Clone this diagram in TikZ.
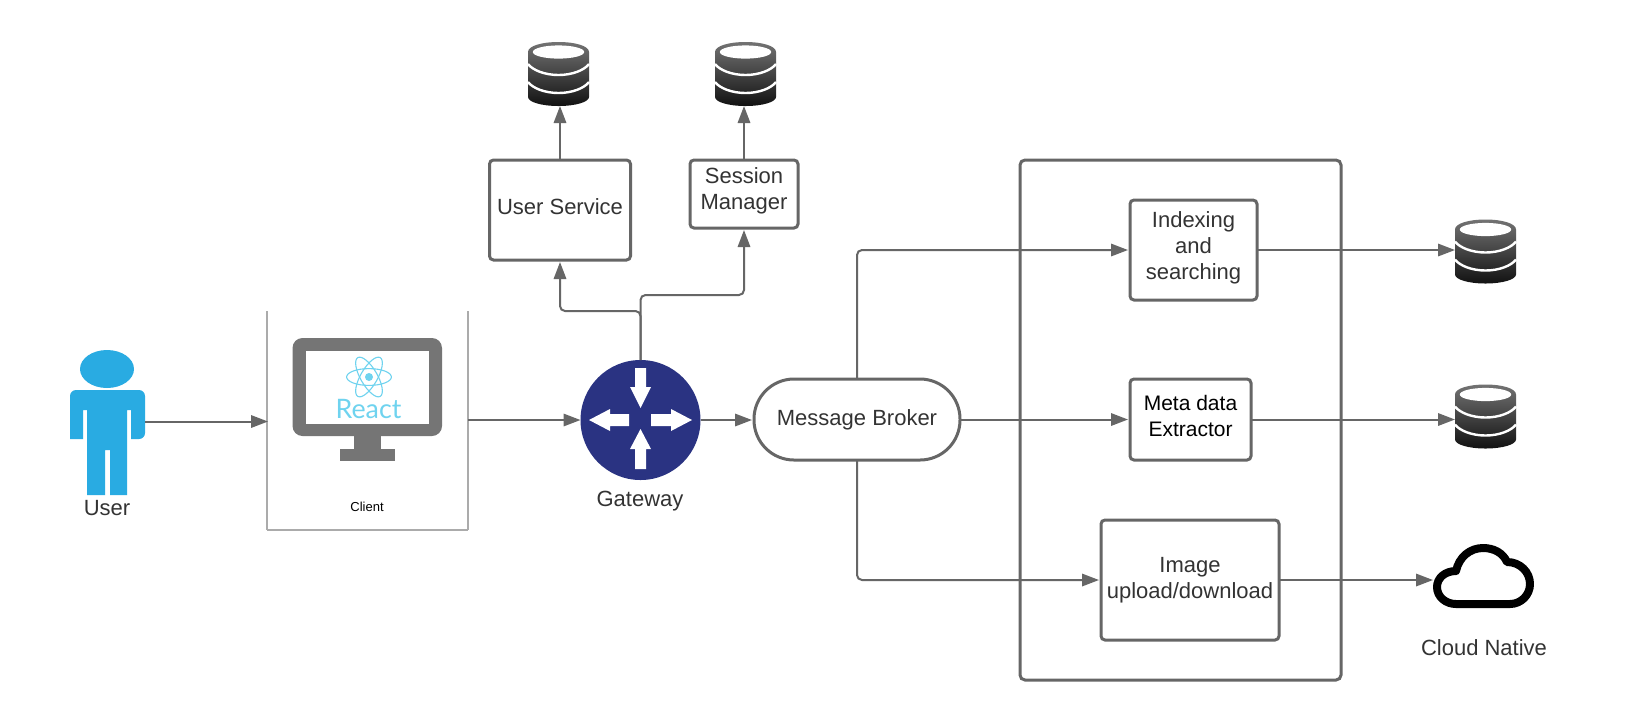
\documentclass[tikz,border=0pt]{standalone}
\usepackage{fontspec}
\setmainfont{Liberation Sans}
\newfontfamily\reactfont{Lato}
\usetikzlibrary{arrows.meta,calc}
\definecolor{linegrey}{HTML}{666666}
\definecolor{textgrey}{HTML}{333333}
\definecolor{monitorgrey}{HTML}{757575}
\definecolor{userblue}{HTML}{29ABE2}
\definecolor{gatewayblue}{HTML}{2A3382}
\definecolor{reactblue}{HTML}{6FD3EF}
\definecolor{edgegrey}{HTML}{ABABAB}
\newcommand{\liftedtext}[2]{\raisebox{0pt}[\height][\dimexpr\depth+#1*2\relax]{\begin{tabular}{@{}c@{}}#2\end{tabular}}}
\tikzset{
  labeltext/.style={font=\fontsize{11}{13}\selectfont,text=textgrey,align=center,inner sep=0pt},
  boxnode/.style={labeltext,draw=linegrey,line width=1.5pt,rounded corners=2pt,fill=white,outer sep=0pt},
  conn/.style={draw=linegrey,line width=1pt,rounded corners=2.5pt,-{Triangle[length=8.5pt,width=6.2pt]},shorten >=1pt},
  iconconn/.style={conn,shorten >=0pt},
  iconnode/.style={draw=none,inner sep=0pt,outer sep=0pt},
  dbicon/.pic={
    \path[top color=black!55,bottom color=black!93,shading angle=0]
      (-30.5,-22) .. controls (-30.5,-28) and (-17,-32) .. (0,-32)
      .. controls (17,-32) and (30.5,-28) .. (30.5,-22) -- (30.5,23)
      .. controls (30.5,28) and (17,32) .. (0,32)
      .. controls (-17,32) and (-30.5,28) .. (-30.5,23) -- cycle;
    \fill[white] (0,-22) ellipse [x radius=12.85pt,y radius=3.3pt];
    \draw[white,line width=1.2pt] (-30.5,-10) .. controls (-26,-4) and (-14,1) .. (0,1) .. controls (14,1) and (26,-4) .. (30.5,-10);
    \draw[white,line width=1.2pt] (-30.5,8) .. controls (-26,14) and (-14,19) .. (0,19) .. controls (14,19) and (26,14) .. (30.5,8);
  }
}
\begin{document}
\begin{tikzpicture}[x=0.5pt,y=-0.5pt]
\useasboundingbox[fill=white] (0,0) rectangle (1644,720);

% outer container
\node[draw=linegrey,line width=1.5pt,rounded corners=2.5pt,inner sep=0pt,outer sep=0pt,minimum width=160.5pt,minimum height=260pt] (group) at (1180.5,420) {};

% user icon
\node[iconnode,minimum width=37.5pt,minimum height=72.5pt] (user) at (107.5,421.5) {};
\fill[userblue] (107,369) ellipse [x radius=13.5pt,y radius=9.5pt];
\fill[userblue,rounded corners=3pt] (70,439) -- (70,390) -- (145,390) -- (145,439) [sharp corners] -- (131,439) -- (131,410) -- (127,410) -- (127,495) -- (110,495) -- (110,450) -- (105,450) -- (105,495) -- (87,495) -- (87,410) -- (83,410) -- (83,439) -- cycle;
\node[labeltext] (userlabel) at (107,508) {User};

% client
\node[iconnode,minimum width=100.5pt,minimum height=109.5pt] (client) at (367.5,420.5) {};
\draw[edgegrey,line width=.6pt] (client.north west) -- (client.south west);
\draw[edgegrey,line width=.6pt] (client.north east) -- (client.south east);
\draw[edgegrey,line width=1pt] (client.south west) -- (client.south east);
\fill[monitorgrey,rounded corners=5pt] (292.5,338) rectangle (442,436);
\fill[white] (306,351) rectangle (429,424);
\fill[monitorgrey] (354,436) rectangle (381,449);
\fill[monitorgrey] (340,449) rectangle (395,461);
\draw[reactblue,line width=.55pt] (369,377) ellipse [x radius=11.2pt,y radius=4.2pt];
\draw[reactblue,line width=.55pt,rotate around={60:(369,377)}] (369,377) ellipse [x radius=11.2pt,y radius=4.2pt];
\draw[reactblue,line width=.55pt,rotate around={120:(369,377)}] (369,377) ellipse [x radius=11.2pt,y radius=4.2pt];
\fill[reactblue] (369,377) circle [radius=2pt];
\node[inner sep=0pt,text=reactblue,font=\fontsize{13.4}{14}\selectfont\reactfont,anchor=base] (reactlabel) at (368.5,418) {React};
\node[inner sep=0pt,font=\fontsize{6.5}{8}\selectfont,text=black] (clientlabel) at (367,507) {Client};

% gateway
\node[circle,fill=gatewayblue,inner sep=0pt,outer sep=0pt,minimum size=60pt] (gw) at (640.5,420) {};
\fill[white] (635,368) -- (646,368) -- (646,387) -- (651,387) -- (640.5,408) -- (630,387) -- (635,387) -- cycle;
\fill[white] (635,469) -- (646,469) -- (646,449) -- (651,449) -- (640.5,429) -- (630,449) -- (635,449) -- cycle;
\fill[white] (629,414) -- (629,426) -- (610,426) -- (610,431) -- (589,420) -- (610,409) -- (610,414) -- cycle;
\fill[white] (651,414) -- (651,426) -- (671,426) -- (671,431) -- (692,420) -- (671,409) -- (671,414) -- cycle;
\node[labeltext] (gwlabel) at (640,501) {Gateway};

% boxes
\node[boxnode,minimum width=70.5pt,minimum height=50pt] (us) at (560,210) {\liftedtext{.5pt}{User Service}};
\node[boxnode,minimum width=54pt,minimum height=34pt] (sm) at (744,194) {\liftedtext{1.6pt}{Session\\Manager}};
\node[boxnode,rounded corners=20pt,minimum width=103pt,minimum height=40.5pt] (mb) at (857,419.5) {Message Broker};
\node[boxnode,minimum width=63.5pt,minimum height=50pt] (ix) at (1193.5,250) {\liftedtext{.7pt}{Indexing\\and\\searching}};
\node[boxnode,minimum width=60.5pt,minimum height=40.5pt,text=black,font=\fontsize{10.5}{13}\selectfont] (me) at (1190.5,419.5) {\liftedtext{.5pt}{Meta data\\Extractor}};
\node[boxnode,minimum width=89pt,minimum height=60pt] (im) at (1190,580) {Image\\upload/download};

% databases
\node[iconnode,minimum width=30.5pt,minimum height=32pt] (db1) at (558.5,74) {};
\node[iconnode,minimum width=30.5pt,minimum height=32pt] (db2) at (745.5,74) {};
\node[iconnode,minimum width=30.5pt,minimum height=32pt] (db3) at (1485.5,251.5) {};
\node[iconnode,minimum width=30.5pt,minimum height=32pt] (db4) at (1485.5,416.5) {};
\pic at (db1) {dbicon};
\pic at (db2) {dbicon};
\pic at (db3) {dbicon};
\pic at (db4) {dbicon};

% cloud
\node[iconnode,minimum width=50.5pt,minimum height=32.5pt] (cloud) at (1483.5,575.5) {};
\draw[black,line width=4pt,line join=round] (1456,604) -- (1510,604)
  .. controls (1521,604) and (1530,595) .. (1530,584)
  .. controls (1530,572) and (1520,562) .. (1507,562)
  .. controls (1503,553) and (1494,548) .. (1483,548)
  .. controls (1470,548) and (1459,557) .. (1456,571)
  .. controls (1445,571) and (1437,578) .. (1437,587)
  .. controls (1437,597) and (1446,604) .. (1456,604) -- cycle;
\node[labeltext] (cloudlabel) at (1484,648) {Cloud Native};

% turning points of the gateway connectors
\coordinate (turnus) at (560,311);
\coordinate (turnsm) at (744,295);

% connectors
\draw[iconconn,shorten >=-.5pt] (user.east) -- (user.east -| client.west);
\draw[conn,shorten >=0pt] (client.east |- gw.west) -- (gw.west);
\draw[conn] (gw.east) -- (gw.east -| mb.west);
\draw[conn] (gw.north) |- (turnus) -- (us.south);
\draw[conn] (gw.north) |- (turnsm) -- (sm.south);
\draw[iconconn] (us.north) -- (us.north |- db1.south);
\draw[iconconn] (sm.north) -- (sm.north |- db2.south);
\draw[conn] (mb.north) |- (ix.west);
\draw[conn] (mb.east) -- (mb.east -| me.west);
\draw[conn] (mb.south) |- (im.west);
\draw[iconconn] (ix.east) -- (ix.east -| db3.west);
\draw[iconconn] (me.east) -- (me.east -| db4.west);
\draw[iconconn] (im.east) -- (im.east -| cloud.west);
\end{tikzpicture}
\end{document}
